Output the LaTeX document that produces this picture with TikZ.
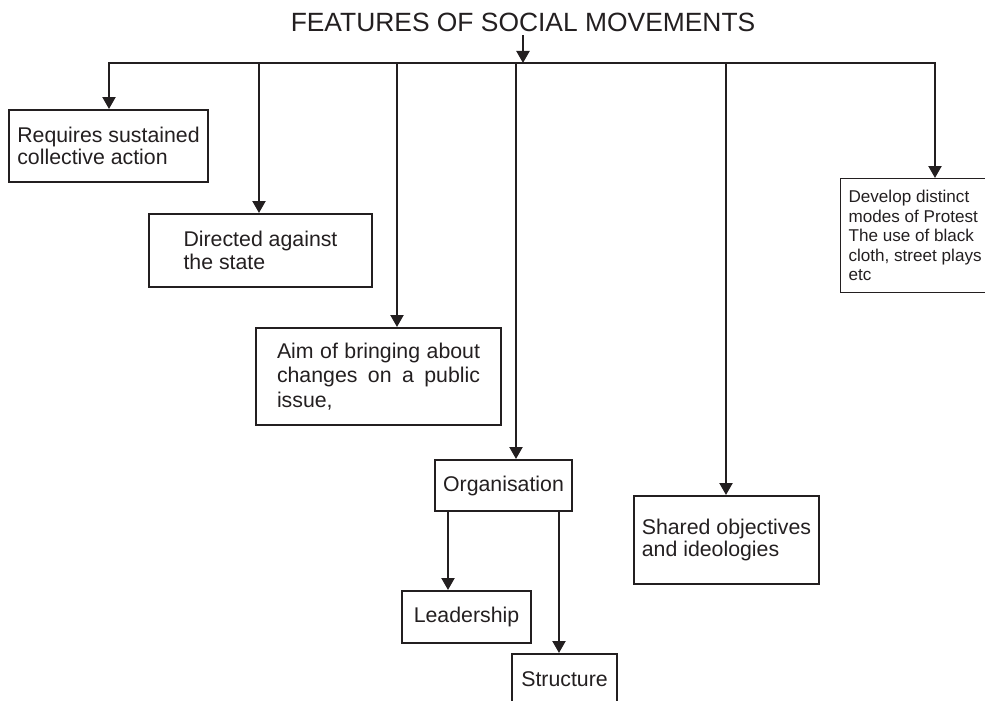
\documentclass[tikz,border=0pt]{standalone}
\usepackage{fontspec}
\setmainfont{Liberation Sans}
\usetikzlibrary{calc,arrows.meta,positioning}
\definecolor{ink}{RGB}{35,31,32}

\begin{document}
\begin{tikzpicture}[x=1pt,y=-1pt]

\tikzset{featbox/.style={draw=ink,text=ink,line width=2pt,inner sep=0pt,align=left,anchor=north west,font=\fontsize{21.3}{22.3}\selectfont},
thinbox/.style={featbox,line width=1.2pt,font=\fontsize{17.1}{19.5}\selectfont},
conn/.style={draw=ink,line width=2.2pt},
arrowline/.style={conn,-{Triangle[length=12pt,width=13pt]}}}

\useasboundingbox (0,0) rectangle (985,701);

% Title
\node[font=\fontsize{26.4}{30}\selectfont,text=ink,inner sep=3pt,anchor=base] (title) at (523,32) {FEATURES OF SOCIAL MOVEMENTS};

% Bus points
\foreach \n/\x in {1/109,2/259,3/397,4/516,5/726,6/935} \coordinate (bus\n) at (\x,63);

% Feature boxes
\node[featbox,minimum width=199,minimum height=72] (sustained) at (8,109) {Requires sustained\\collective action};
\node[featbox,minimum width=223,minimum height=73] (directed) at (148,213) {Directed against\\the state};
\node[featbox,minimum width=245,minimum height=97,text width=203,align=justify,font=\fontsize{21.3}{24.3}\selectfont] (aim) at (255,327) {\hyphenpenalty=10000\relax\tolerance=9999\relax Aim of bringing about changes on a public issue,};
\node[featbox,minimum width=137,minimum height=51] (org) at (434,459) {Organisation};
\node[featbox,minimum width=185,minimum height=88] (shared) at (633,495) {Shared objectives\\and ideologies};
\node[thinbox,minimum width=149,minimum height=114] (protest) at (840,178) {Develop distinct\\modes of Protest\\The use of black\\cloth, street plays\\etc};

% Organisation parts
\node[featbox,minimum width=129,minimum height=52] (lead) at (401,590) {Leadership};
\node[featbox,minimum width=105,minimum height=51] (struct) at (511,653) {Structure};

% Edges
\draw[arrowline] (title.south) -- (title.south |- bus4);
\draw[arrowline] (bus6) -- (bus1) -- (bus1 |- sustained.north);
\draw[arrowline] (bus1) -- (bus6) -- (bus6 |- protest.north);
\foreach \n/\b in {2/directed,3/aim,4/org,5/shared} \draw[arrowline] (bus\n) -- (bus\n |- \b.north);

\coordinate (orgL) at ($(org.south west)+(14,0)$);
\coordinate (orgR) at ($(org.south east)+(-14,0)$);
\draw[arrowline] (orgL) -- (orgL |- lead.north);
\draw[arrowline] (orgR) -- (orgR |- struct.north);

\end{tikzpicture}
\end{document}
